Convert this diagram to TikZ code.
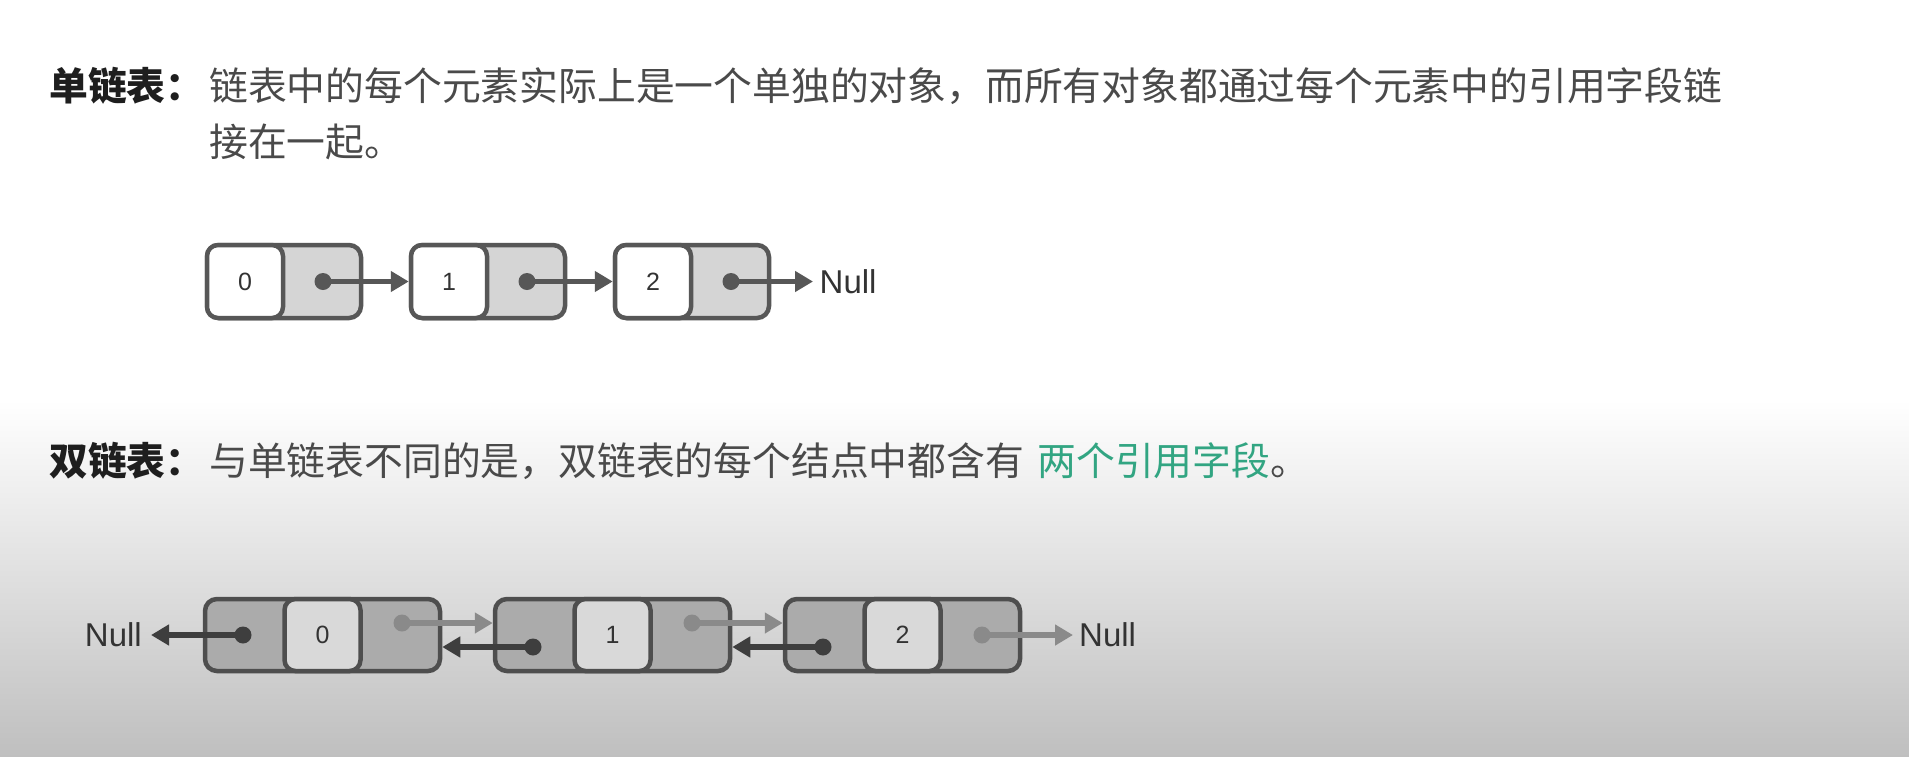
\documentclass[tikz,border=0pt]{standalone}
\usepackage{fontspec}
\setmainfont{Liberation Sans}
\newfontfamily\cjk{Noto Sans CJK SC}
\usepackage{tikz}
\usetikzlibrary{arrows.meta,positioning}
\definecolor{bodygray}{HTML}{4A4A4A}
\definecolor{titleblack}{HTML}{1E1E1E}
\definecolor{keygreen}{RGB}{50,165,130}
\definecolor{sborder}{HTML}{575757}
\definecolor{sgray}{HTML}{D5D5D5}
\definecolor{dborder}{HTML}{4E4E4E}
\definecolor{dgray}{HTML}{ABABAB}
\definecolor{dlight}{HTML}{D9D9D9}
\definecolor{nextgray}{HTML}{8A8A8A}
\definecolor{prevgray}{HTML}{3E3E3E}
\definecolor{nulltext}{HTML}{333333}
\tikzset{
  heading/.style={anchor=base west, inner sep=0pt, font=\cjk\bfseries\fontsize{38.8}{46}\selectfont, text=titleblack},
  para/.style={anchor=base west, inner sep=0pt, font=\cjk\fontsize{38.8}{46}\selectfont, text=bodygray},
  cell/.style={draw=sborder, line width=4.5pt, rounded corners=12pt, minimum width=154pt, minimum height=73pt, fill=sgray, inner sep=0pt},
  valbox/.style={draw=sborder, line width=4.5pt, rounded corners=11pt, minimum width=76pt, minimum height=73pt, fill=white, inner sep=0pt, font=\fontsize{25}{25}\selectfont, text=nulltext},
  dcell/.style={draw=dborder, line width=4.5pt, rounded corners=12pt, minimum width=235pt, minimum height=72pt, fill=dgray, inner sep=0pt},
  dval/.style={draw=dborder, line width=4.5pt, rounded corners=11pt, minimum width=76pt, minimum height=72pt, fill=dlight, inner sep=0pt, font=\fontsize{25}{25}\selectfont, text=nulltext},
  nulltag/.style={inner ysep=0pt, font=\fontsize{33}{33}\selectfont, text=nulltext},
  link/.style={draw=sborder, line width=5.5pt, -{Triangle[length=18pt,width=20pt]}},
  nextlink/.style={draw=nextgray, line width=5.5pt, -{Triangle[length=18pt,width=20pt]}},
  prevlink/.style={draw=prevgray, line width=5.5pt, -{Triangle[length=18pt,width=20pt]}}
}
\begin{document}
\begin{tikzpicture}[x=1pt,y=-1pt]
  \useasboundingbox (0,0) rectangle (1909,756);
  \fill[white] (0,0) rectangle (1909,756);
  \shade[top color=white, bottom color=black!25] (0,400) rectangle (1909,756);
  % single list
  \node[heading] (h1) at (49,100) {单链表：};
  \node[para] (p1a) at (209,100) {链表中的每个元素实际上是一个单独的对象，而所有对象都通过每个元素中的引用字段链};
  \node[para] (p1b) at (209,156) {接在一起。};
  \node[cell] (s0) at (284,281.5) {};
  \node[valbox] (s0v) at (245,281.5) {0};
  \node[cell] (s1) at (488,281.5) {};
  \node[valbox] (s1v) at (449,281.5) {1};
  \node[cell] (s2) at (692,281.5) {};
  \node[valbox] (s2v) at (653,281.5) {2};
  \node[nulltag, anchor=west, inner xsep=6.5pt] (snull) at (813,281.5) {Null};
  \coordinate (s0n) at (323,281.5);
  \coordinate (s1n) at (527,281.5);
  \coordinate (s2n) at (731,281.5);
  \draw[link] (s0n) -- (s1.west);
  \draw[link] (s1n) -- (s2.west);
  \draw[link] (s2n) -- (snull.west);
  \fill[sborder] (s0n) circle (8.5pt) (s1n) circle (8.5pt) (s2n) circle (8.5pt);
  % double list
  \node[heading] (h2) at (49,475) {双链表：};
  \node[para] (p2) at (209,475) {与单链表不同的是，双链表的每个结点中都含有\hspace{0.35em}{\color{keygreen}两个引用字段}。};
  \node[dcell] (d0) at (322.5,635) {};
  \node[dval] (d0v) at (322.5,635) {0};
  \node[dcell] (d1) at (612.5,635) {};
  \node[dval] (d1v) at (612.5,635) {1};
  \node[dcell] (d2) at (902.5,635) {};
  \node[dval] (d2v) at (902.5,635) {2};
  \node[nulltag, anchor=east, inner xsep=9pt] (lnull) at (151,635) {Null};
  \node[nulltag, anchor=west, inner xsep=6pt] (rnull) at (1073,635) {Null};
  \coordinate (d0p) at (243,635);
  \coordinate (d0n) at (402,623);
  \coordinate (d1p) at (533,647);
  \coordinate (d1n) at (692,623);
  \coordinate (d2p) at (823,647);
  \coordinate (d2n) at (982,635);
  \draw[prevlink] (d0p) -- (lnull.east);
  \draw[nextlink] (d0n) -- (d0n -| d1.west);
  \draw[prevlink] (d1p) -- (d1p -| d0.east);
  \draw[nextlink] (d1n) -- (d1n -| d2.west);
  \draw[prevlink] (d2p) -- (d2p -| d1.east);
  \draw[nextlink] (d2n) -- (rnull.west);
  \fill[prevgray] (d0p) circle (8.5pt) (d1p) circle (8.5pt) (d2p) circle (8.5pt);
  \fill[nextgray] (d0n) circle (8.5pt) (d1n) circle (8.5pt) (d2n) circle (8.5pt);
\end{tikzpicture}
\end{document}
